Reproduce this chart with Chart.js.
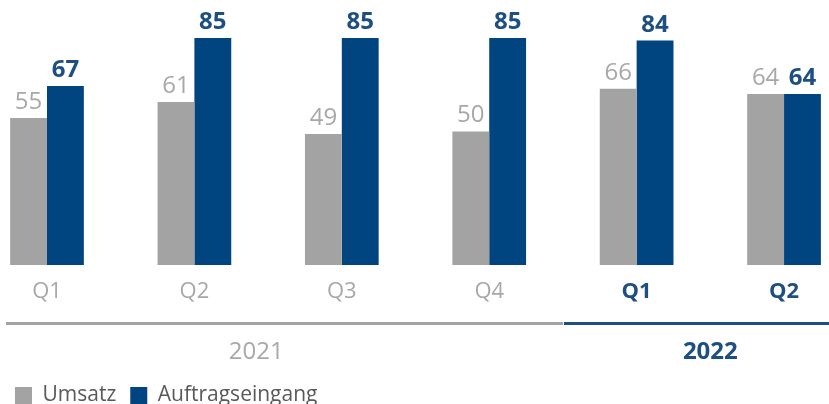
<!DOCTYPE html>
<html>
<head>
<meta charset="utf-8">
<script src="https://cdn.jsdelivr.net/npm/chart.js@4"></script>
<style>
  body { margin: 0; background: #fff; }
  #wrap { width: 829px; height: 404px; }
</style>
</head>
<body>
<div id="wrap"><canvas id="umsatz" width="829" height="404"></canvas></div>
<script>
const quartale = ['Q1', 'Q2', 'Q3', 'Q4', 'Q1', 'Q2'];
const jahre = ['2021', '2022'];
const jahrVonQuartal = [0, 0, 0, 0, 1, 1];
const umsatz = [55, 61, 49, 50, 66, 64];
const auftragseingang = [67, 85, 85, 85, 84, 64];

const grau = '#a3a3a3';
const blau = '#004580';
const grauText = '#a8a8a8';
const blauText = '#1d4f82';
const schrift = "'Open Sans', sans-serif";

function istNeu(c) {
    return c && c.tick && jahrVonQuartal[c.tick.value] === 1;
}

// Werte ueber den Balken
const wertePlugin = {
    id: 'werte',
    afterDatasetsDraw(chart) {
        const ctx = chart.ctx;
        ctx.save();
        ctx.textAlign = 'center';
        ctx.textBaseline = 'alphabetic';
        chart.data.datasets.forEach((ds, i) => {
            const meta = chart.getDatasetMeta(i);
            meta.data.forEach((bar, j) => {
                ctx.fillStyle = i === 0 ? grauText : blauText;
                ctx.font = (i === 0 ? '500' : '700') + ' 24px ' + schrift;
                ctx.fillText(ds.data[j].y, bar.x, bar.y - 9);
            });
        });
        ctx.restore();
    }
};

// Jahreslinie und Jahreszahlen
const jahrPlugin = {
    id: 'jahre',
    afterDraw(chart) {
        const ctx = chart.ctx;
        const x = chart.scales.x;
        const grenze = (x.getPixelForValue(3) + x.getPixelForValue(4)) / 2;
        ctx.save();
        ctx.fillStyle = grau;
        ctx.fillRect(6, 322, grenze - 6, 3);
        ctx.fillStyle = blauText;
        ctx.fillRect(grenze + 1, 322, chart.width - grenze - 1, 3);

        ctx.textAlign = 'center';
        ctx.textBaseline = 'middle';
        jahre.forEach((j, k) => {
            const idx = quartale.map((q, i) => i).filter(i => jahrVonQuartal[i] === k);
            const mitte = k === 0 ? x.getPixelForValue(1.42)
                : (x.getPixelForValue(idx[0]) + x.getPixelForValue(idx[idx.length - 1])) / 2;
            ctx.fillStyle = k === 0 ? grauText : blauText;
            ctx.font = (k === 0 ? '500' : '700') + ' 24px ' + schrift;
            ctx.fillText(j, mitte, 352);
        });
        ctx.restore();
    }
};

const dataUmsatz = {
    datasets: [{
        label: 'Umsatz',
        backgroundColor: grau,
        data: umsatz.map((v, i) => ({ x: i, y: v })),
        categoryPercentage: 0.5,
        barPercentage: 1
    }, {
        label: 'Auftragseingang',
        backgroundColor: blau,
        data: auftragseingang.map((v, i) => ({ x: i, y: v })),
        categoryPercentage: 0.5,
        barPercentage: 1
    }]
};

const configUmsatz = {
    type: 'bar',
    data: dataUmsatz,
    options: {
        responsive: false,
        animation: false,
        layout: { padding: { left: 1, right: 0, top: 0, bottom: -12 } },
        plugins: {
            tooltip: { enabled: false },
            legend: {
                position: 'bottom',
                align: 'start',
                labels: {
                    boxWidth: 17,
                    boxHeight: 17,
                    padding: 14,
                    color: '#595959',
                    font: { family: schrift, size: 21 }
                }
            }
        },
        scales: {
            x: {
                type: 'linear',
                offset: false,
                min: -0.312,
                max: 5.305,
                grid: { display: false, drawTicks: false, offset: false },
                border: { display: false },
                afterFit(scale) { scale.height = 106; },
                ticks: {
                    stepSize: 1,
                    includeBounds: false,
                    autoSkip: false,
                    maxRotation: 0,
                    padding: 14,
                    callback: (v) => Number.isInteger(v) ? quartale[v] : '',
                    color: (c) => istNeu(c) ? blauText : grauText,
                    font: (c) => ({ family: schrift, size: 22, weight: istNeu(c) ? '700' : '500' })
                }
            },
            y: {
                display: false,
                min: 0,
                max: 99.2
            }
        }
    },
    plugins: [wertePlugin, jahrPlugin]
};

const myChartUmsatz = new Chart(document.getElementById('umsatz'), configUmsatz);
</script>
</body>
</html>
